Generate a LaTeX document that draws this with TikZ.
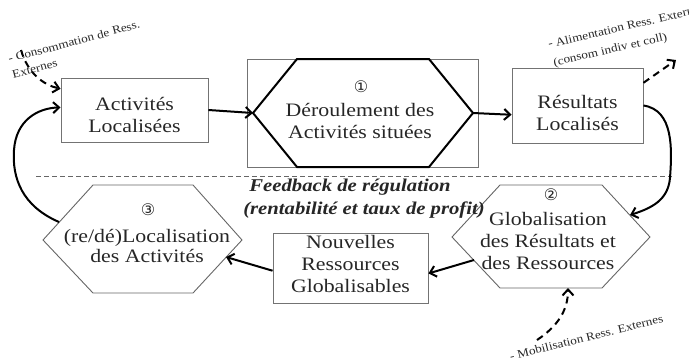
\documentclass[tikz,border=0pt]{standalone}
\usepackage{fontspec}
\setmainfont{Liberation Serif}[FakeStretch=1.15]
\newfontfamily\symfont{DejaVu Sans}
\usetikzlibrary{arrows.meta}
\begin{document}
\begin{tikzpicture}[x=1pt,y=-1pt,
  box/.style={draw=black!55, line width=0.9pt, inner sep=0pt},
  txt/.style={align=center, text=black!85, font=\fontsize{19}{22}\selectfont, inner sep=0pt},
  num/.style={text=black!85, font=\symfont\fontsize{16}{16}\selectfont, inner sep=0pt},
  small/.style={align=left, text=black!85, font=\fontsize{11.5}{15}\selectfont, inner sep=0pt},
  hexthin/.style={draw=black!60, line width=0.9pt},
  hexthick/.style={draw=black, line width=2pt, line join=miter},
  conn/.style={draw=black, line width=2pt, -{Straight Barb[length=6pt,width=11pt]}},
  ext/.style={draw=black, line width=2pt, dash pattern=on 7pt off 5pt, -{Straight Barb[length=6pt,width=11pt]}},
  sep/.style={draw=black!60, line width=1pt, dash pattern=on 5pt off 3pt}]
\useasboundingbox (0,0) rectangle (689,360);

% boxes
\node[box, minimum width=147pt, minimum height=64pt] (A) at (134.5,110) {};
\node[txt] (Atxt) at (134.5,114.5) {Activités\\Localisées};
\node[box, minimum width=131pt, minimum height=75pt] (R) at (577.5,105.5) {};
\node[txt] (Rtxt) at (577.5,112.5) {Résultats\\Localisés};
\node[box, minimum width=155pt, minimum height=70pt] (N) at (350.5,268) {};
\node[txt] (Ntxt) at (350.5,263.5) {Nouvelles\\Ressources\\Globalisables};

% hexagon 1 with frame
\node[box, minimum width=231pt, minimum height=108pt] (F) at (362.5,113) {};
\draw[hexthick] (253,113) coordinate (h1w) -- (297,59) -- (429,59) -- (473,113) coordinate (h1e) -- (429,167) -- (297,167) -- cycle;
\node[num] (n1) at (361,87) {①};
\node[txt] (h1txt) at (360,121) {Déroulement des\\Activités situées};

% hexagon 2
\draw[hexthin] (452,237) -- (500,185) -- (602,185) -- (650,237) -- (602,288) -- (500,288) -- cycle;
\coordinate (h2ne) at (630,215);
\coordinate (h2sw) at (474,260);
\coordinate (h2s) at (568,288);
\node[num] (n2) at (551,195) {②};
\node[txt] (h2txt) at (548,241) {Globalisation\\des Résultats et\\des Ressources};

% hexagon 3
\draw[hexthin] (43,240) -- (93,185) -- (193,185) -- (242,240) -- (193,293) -- (93,293) -- cycle;
\coordinate (h3e) at (226,257);
\coordinate (h3nw) at (59,222);
\node[num] (n3) at (148,210) {③};
\node[txt, font=\fontsize{19}{20}\selectfont] (h3txt) at (147,246) {(re/dé)Localisation\\des Activités};

% separator and feedback text
\coordinate (sepL) at (36,176);
\coordinate (sepR) at (672,176);
\draw[sep] (sepL) -- (sepR);
\node[font=\bfseries\itshape\fontsize{18}{20}\selectfont, text=black!85, inner sep=0pt] (fb) at (350,187) {Feedback de régulation};
\node[font=\bfseries\itshape\fontsize{18}{20}\selectfont, text=black!85, inner sep=0pt] (fb2) at (364,210) {(rentabilité et taux de profit)};

% main connectors
\draw[conn] (A.east) -- (h1w);
\draw[conn] (h1e) -- (R.188);
\draw[conn] (R.east) .. controls (674,110) and (672,150) .. (670,178) .. controls (668,200) and (652,208) .. (h2ne);
\draw[conn] (h2sw) -- (N.-4);
\draw[conn] (N.182) -- (h3e);
\draw[conn] (h3nw) .. controls (22,206) and (12,178) .. (14,150) .. controls (16,120) and (38,108) .. (A.178);

% external inputs / outputs
\coordinate (e1) at (21,50);
\draw[ext] (e1) .. controls (28,74) and (44,85) .. (A.164);
\coordinate (e2) at (676,60);
\draw[ext] (R.19) -- (e2);
\coordinate (e3) at (537,340);
\draw[ext] (e3) .. controls (558,326) and (568,310) .. (h2s);

% small labels
\node[small, rotate=15, anchor=north west] (l1) at (7,55) {- Consommation de Ress.\\[1pt]Externes};
\node[small, rotate=13, anchor=north west] (l2) at (547,40) {- Alimentation Ress. Extern\\[4pt]\hspace*{1pt}(consom indiv et coll)};
\node[small, rotate=14, anchor=base east] (l3) at (664,322) {- Mobilisation Ress. Externes};
\end{tikzpicture}
\end{document}
